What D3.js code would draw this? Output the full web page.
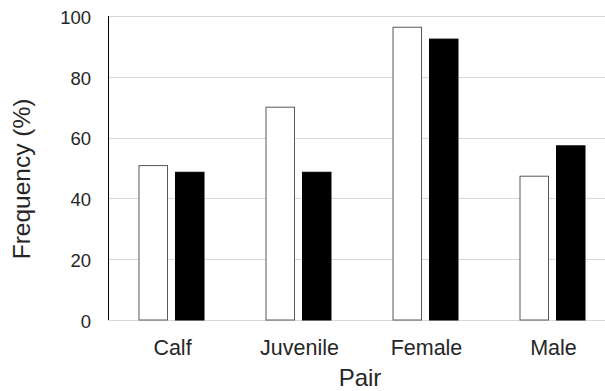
<!DOCTYPE html>
<html><head><meta charset="utf-8">
<script src="https://cdn.jsdelivr.net/npm/d3@7"></script>
<style>body{margin:0;background:#fff}svg{display:block}</style>
</head><body>
<svg id="c" width="605" height="391"></svg>
<script>
const categories = ["Calf", "Juvenile", "Female", "Male"];
const seriesWhite = [50.8, 70.0, 96.3, 47.3];
const seriesBlack = [48.6, 48.6, 92.4, 57.3];
const yTicks = [0, 20, 40, 60, 80, 100];

const svg = d3.select("#c");
const x = d3.scaleBand().domain(categories).range([108, 616]).paddingInner(0).paddingOuter(0);
const y = d3.scaleLinear().domain([0, 100]).range([320, 16]);
const barW = 28.5, gap = 8;
const font = "'Liberation Sans', Arial, sans-serif";

// gridlines
svg.append("g").selectAll("line").data(yTicks).join("line")
  .attr("x1", 108).attr("x2", 616)
  .attr("y1", d => Math.round(y(d)) + 0.5).attr("y2", d => Math.round(y(d)) + 0.5)
  .attr("stroke", "#d9d9d9").attr("stroke-width", 1);

// y tick labels
svg.append("g").selectAll("text").data(yTicks).join("text")
  .attr("x", 91).attr("y", d => y(d) + 7.7)
  .attr("text-anchor", "end").attr("font-family", font).attr("font-size", 18.5)
  .attr("fill", "#262626").text(d => d);

const data = categories.map((c, i) => ({c, w: seriesWhite[i], b: seriesBlack[i]}));
const g = svg.append("g");
g.selectAll("rect.w").data(data).join("rect").attr("class", "w")
  .attr("x", d => x(d.c) + x.bandwidth() / 2 - gap / 2 - barW)
  .attr("width", barW)
  .attr("y", d => y(d.w)).attr("height", d => y(0) - y(d.w))
  .attr("fill", "#fff").attr("stroke", "#595959").attr("stroke-width", 1);
g.selectAll("rect.b").data(data).join("rect").attr("class", "b")
  .attr("x", d => x(d.c) + x.bandwidth() / 2 + gap / 2)
  .attr("width", barW)
  .attr("y", d => y(d.b)).attr("height", d => y(0) - y(d.b))
  .attr("fill", "#000").attr("stroke", "#000").attr("stroke-width", 1);

// y axis line
svg.append("line").attr("x1", 108.5).attr("x2", 108.5).attr("y1", 16).attr("y2", 320)
  .attr("stroke", "#000").attr("stroke-width", 1);

// category labels
svg.append("g").selectAll("text").data(categories).join("text")
  .attr("x", d => x(d) + x.bandwidth() / 2 + 1).attr("y", 355)
  .attr("text-anchor", "middle").attr("font-family", font).attr("font-size", 21.5)
  .attr("fill", "#262626").text(d => d);

// axis titles
svg.append("text").attr("x", 360).attr("y", 386)
  .attr("text-anchor", "middle").attr("font-family", font).attr("font-size", 24)
  .attr("fill", "#262626").text("Pair");
svg.append("text").attr("transform", "translate(30,179) rotate(-90)")
  .attr("text-anchor", "middle").attr("font-family", font).attr("font-size", 24.5)
  .attr("fill", "#262626").text("Frequency (%)");
</script>
</body></html>
